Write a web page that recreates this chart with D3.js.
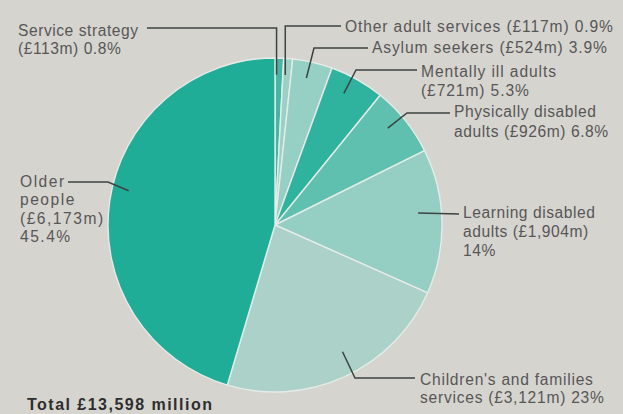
<!DOCTYPE html>
<html>
<head>
<meta charset="utf-8">
<script src="https://cdn.jsdelivr.net/npm/d3@7"></script>
<style>
  html, body { margin: 0; padding: 0; background: #d6d4cf; }
  svg { display: block; }
  text { font-family: "Liberation Sans", Arial, sans-serif; }
</style>
</head>
<body>
<svg id="chart" width="623" height="414"></svg>
<script>
// Social services spending by client group, clockwise from 12 o'clock
const categories = [
  "Service strategy",
  "Other adult services",
  "Asylum seekers",
  "Mentally ill adults",
  "Physically disabled adults",
  "Learning disabled adults",
  "Children's and families services",
  "Older people"
];
const spendMillions = [113, 117, 524, 721, 926, 1904, 3121, 6173];
const percentLabels = ["0.8%", "0.9%", "3.9%", "5.3%", "6.8%", "14%", "23%", "45.4%"];
const amountLabels = ["£113m", "£117m", "£524m", "£721m", "£926m", "£1,904m", "£3,121m", "£6,173m"];
const totalLabel = "Total £13,598 million";

// Label text broken into printed lines
const labelLines = [
  ["Service strategy", "(£113m) 0.8%"],
  ["Other adult services (£117m) 0.9%"],
  ["Asylum seekers (£524m) 3.9%"],
  ["Mentally ill adults", "(£721m) 5.3%"],
  ["Physically disabled", "adults (£926m) 6.8%"],
  ["Learning disabled", "adults (£1,904m)", "14%"],
  ["Children's and families", "services (£3,121m) 23%"],
  ["Older", "people", "(£6,173m)", "45.4%"]
];

const sliceColors = ["#45b6a4", "#9dd0c5", "#96cfc3", "#2fb29e", "#5fc0b0", "#95cfc3", "#abd1c9", "#1fad97"];

// Callout layout: where the leader starts inside the slice (fraction across the
// slice, fraction of radius), its bend points, the text block position and the
// width its first line is spaced out to.
const callouts = [
  { t: 0.2,  rf: 0.9,  bends: d => [[d[0], 28], [147, 28]],    tx: 18,  ty: 36,  lh: 17.5, w: 120 },
  { t: 0.3,  rf: 0.9,  bends: d => [[d[0], 26], [341, 26]],    tx: 345, ty: 32,  lh: 18,   w: 268 },
  { t: 0.43, rf: 0.9,  bends: () => [[314, 48], [368, 48]],    tx: 372, ty: 53,  lh: 18,   w: 235 },
  { t: 0.4,  rf: 0.89, bends: () => [[356, 70], [417, 70]],    tx: 421, ty: 77,  lh: 18.5, w: 135 },
  { t: 0.42, rf: 0.89, bends: () => [[407, 113], [450, 113]],  tx: 454, ty: 117, lh: 19.5, w: 142 },
  { t: 0.43, rf: 0.86, bends: () => [[459, 214]],              tx: 463, ty: 218, lh: 19,   w: 132 },
  { t: 0.46, rf: 0.86, bends: () => [[355, 378], [415, 378]],  tx: 420, ty: 385, lh: 18,   w: 173 },
  { t: 0.53, rf: 0.9,  bends: () => [[108, 182], [68, 182]],   tx: 20,  ty: 187, lh: 18.4, w: 46 }
];

const svg = d3.select("#chart");
const cx = 275, cy = 225, radius = 167;

const pie = d3.pie().sort(null).value(d => d.value);
const arcs = pie(categories.map((c, i) => ({ name: c, value: spendMillions[i], i })));
const arc = d3.arc().innerRadius(0).outerRadius(radius);

const g = svg.append("g").attr("transform", `translate(${cx},${cy})`);

g.selectAll("path.slice")
  .data(arcs)
  .join("path")
  .attr("class", "slice")
  .attr("d", arc)
  .attr("fill", d => sliceColors[d.data.i])
  .attr("stroke", "#e4ebe8")
  .attr("stroke-width", 1.4)
  .attr("stroke-linejoin", "round");

// Spread a text's letters so that its first line reaches the given width
function spreadTo(textSel, firstNode, width) {
  const measured = firstNode.getComputedTextLength();
  const n = firstNode.textContent.length;
  const ls = Math.max(-0.5, Math.min(1.5, (width - measured) / Math.max(1, n - 1)));
  textSel.attr("letter-spacing", ls.toFixed(2));
}

// Leader lines and their text blocks
const line = d3.line();
const labelSize = 15.6;
arcs.forEach((d, i) => {
  const c = callouts[i];
  const a = d.startAngle + (d.endAngle - d.startAngle) * c.t;
  const r = radius * c.rf;
  const inner = [cx + r * Math.sin(a), cy - r * Math.cos(a)];
  const pts = [inner, ...c.bends(inner)];
  svg.append("path")
    .attr("d", line(pts))
    .attr("fill", "none")
    .attr("stroke", "#3c4342")
    .attr("stroke-width", 1.5);

  const txt = svg.append("text")
    .attr("x", c.tx)
    .attr("y", c.ty)
    .attr("font-size", labelSize)
    .attr("fill", "#575757");
  const spans = labelLines[i].map((s, k) =>
    txt.append("tspan")
      .attr("x", c.tx)
      .attr("y", c.ty + k * c.lh)
      .text(s)
  );
  spreadTo(txt, spans[0].node(), c.w);
});

const total = svg.append("text")
  .attr("x", 27)
  .attr("y", 410)
  .attr("font-size", 16)
  .attr("font-weight", "bold")
  .attr("fill", "#2e2e2e")
  .text(totalLabel);
spreadTo(total, total.node(), 185);
</script>
</body>
</html>
